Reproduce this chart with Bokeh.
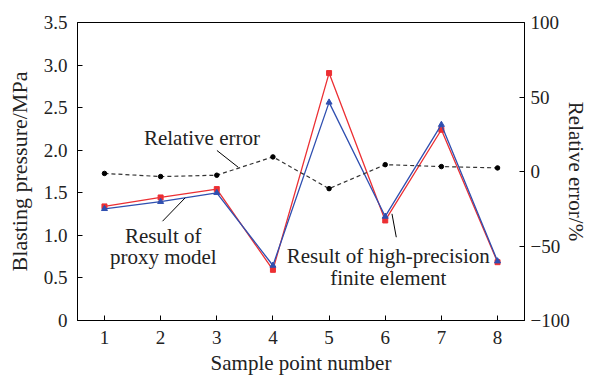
from bokeh.plotting import figure
from bokeh.models import Range1d, LinearAxis, FixedTicker, CustomJSTickFormatter, Label
from bokeh.embed import file_html
from bokeh.resources import INLINE

# Data
sample_points = [1, 2, 3, 4, 5, 6, 7, 8]
fe_result = [1.34, 1.445, 1.543, 0.595, 2.906, 1.175, 2.24, 0.685]      # high-precision finite element (MPa)
proxy_result = [1.312, 1.395, 1.50, 0.646, 2.562, 1.222, 2.30, 0.697]  # proxy model (MPa)
relative_error = [-1.3, -3.4, -2.5, 9.8, -11.5, 4.6, 3.3, 2.4]         # %
left_ticks = [0, 0.5, 1.0, 1.5, 2.0, 2.5, 3.0, 3.5]
right_ticks = [-100, -50, 0, 50, 100]

FONT = "Liberation Serif"
TICK_SIZE = "19px"
LABEL_SIZE = "21px"

p = figure(width=592, height=379, output_backend="svg", toolbar_location=None,
           x_range=Range1d(0.52, 8.48), y_range=Range1d(0, 3.5),
           min_border_left=77, min_border_right=68, min_border_top=22, min_border_bottom=59)
p.extra_y_ranges = {"err": Range1d(-100, 100)}
p.xgrid.visible = False
p.ygrid.visible = False
p.outline_line_color = "black"
p.outline_line_width = 1
p.background_fill_color = "white"
p.border_fill_color = "white"

red = "#ec2f33"
blue = "#2f4fb0"

p.line(sample_points, fe_result, line_color=red, line_width=1.3)
p.scatter(sample_points, fe_result, marker="square", size=5, fill_color=red, line_color=red)
p.line(sample_points, proxy_result, line_color=blue, line_width=1.3)
p.scatter(sample_points, proxy_result, marker="triangle", size=6, fill_color=blue, line_color=blue)
p.line(sample_points, relative_error, line_color="#333333", line_width=1.2, line_dash="4 3", y_range_name="err")
p.scatter(sample_points, relative_error, marker="circle", size=4.5, fill_color="black", line_color="black", y_range_name="err")

right_axis = LinearAxis(y_range_name="err", axis_label="Relative error/%")
p.add_layout(right_axis, "right")

for ax in [p.xaxis[0], p.yaxis[0], right_axis]:
    ax.major_tick_in = 5
    ax.major_tick_out = 0
    ax.minor_tick_line_color = None
    ax.axis_line_color = "black"
    ax.major_tick_line_color = "black"
    ax.major_label_text_font = FONT
    ax.major_label_text_font_size = TICK_SIZE
    ax.major_label_text_color = "#222222"
    ax.axis_label_text_font = FONT
    ax.axis_label_text_font_size = LABEL_SIZE
    ax.axis_label_text_font_style = "normal"
    ax.axis_label_text_color = "#222222"

p.xaxis[0].ticker = FixedTicker(ticks=sample_points)
p.xaxis[0].axis_label = "Sample point number"
p.xaxis[0].major_label_standoff = 10
p.xaxis[0].axis_label_standoff = 4

p.yaxis[0].ticker = FixedTicker(ticks=left_ticks)
p.yaxis[0].formatter = CustomJSTickFormatter(code="return tick == 0 ? '0' : tick.toFixed(1);")
p.yaxis[0].axis_label = "Blasting pressure/MPa"
p.yaxis[0].axis_label_text_font_size = "22px"
p.yaxis[0].major_label_standoff = 10
p.yaxis[0].axis_label_standoff = 9

right_axis.ticker = FixedTicker(ticks=right_ticks)
right_axis.formatter = CustomJSTickFormatter(code="return tick < 0 ? '\u2212' + Math.abs(tick) : String(tick);")
right_axis.major_label_standoff = 6
right_axis.axis_label_standoff = -9

def add_text(x, y, txt):
    p.add_layout(Label(x=x, y=y, text=txt, text_font=FONT, text_font_size=LABEL_SIZE,
                       text_color="#222222", text_align="center", text_baseline="middle"))

add_text(2.736, 2.149, "Relative error")
add_text(2.047, 0.99, "Result of")
add_text(2.047, 0.74, "proxy model")
add_text(6.054, 0.755, "Result of high-precision")
add_text(6.054, 0.505, "finite element")

# leader lines
p.line([3.003, 3.382], [1.997, 1.80], line_color="black", line_width=1)
p.line([2.034, 2.438], [1.166, 1.441], line_color="black", line_width=1)
p.line([6.12, 6.197], [1.253, 0.978], line_color="black", line_width=1)

open("out.html", "w").write(file_html(p, INLINE))
